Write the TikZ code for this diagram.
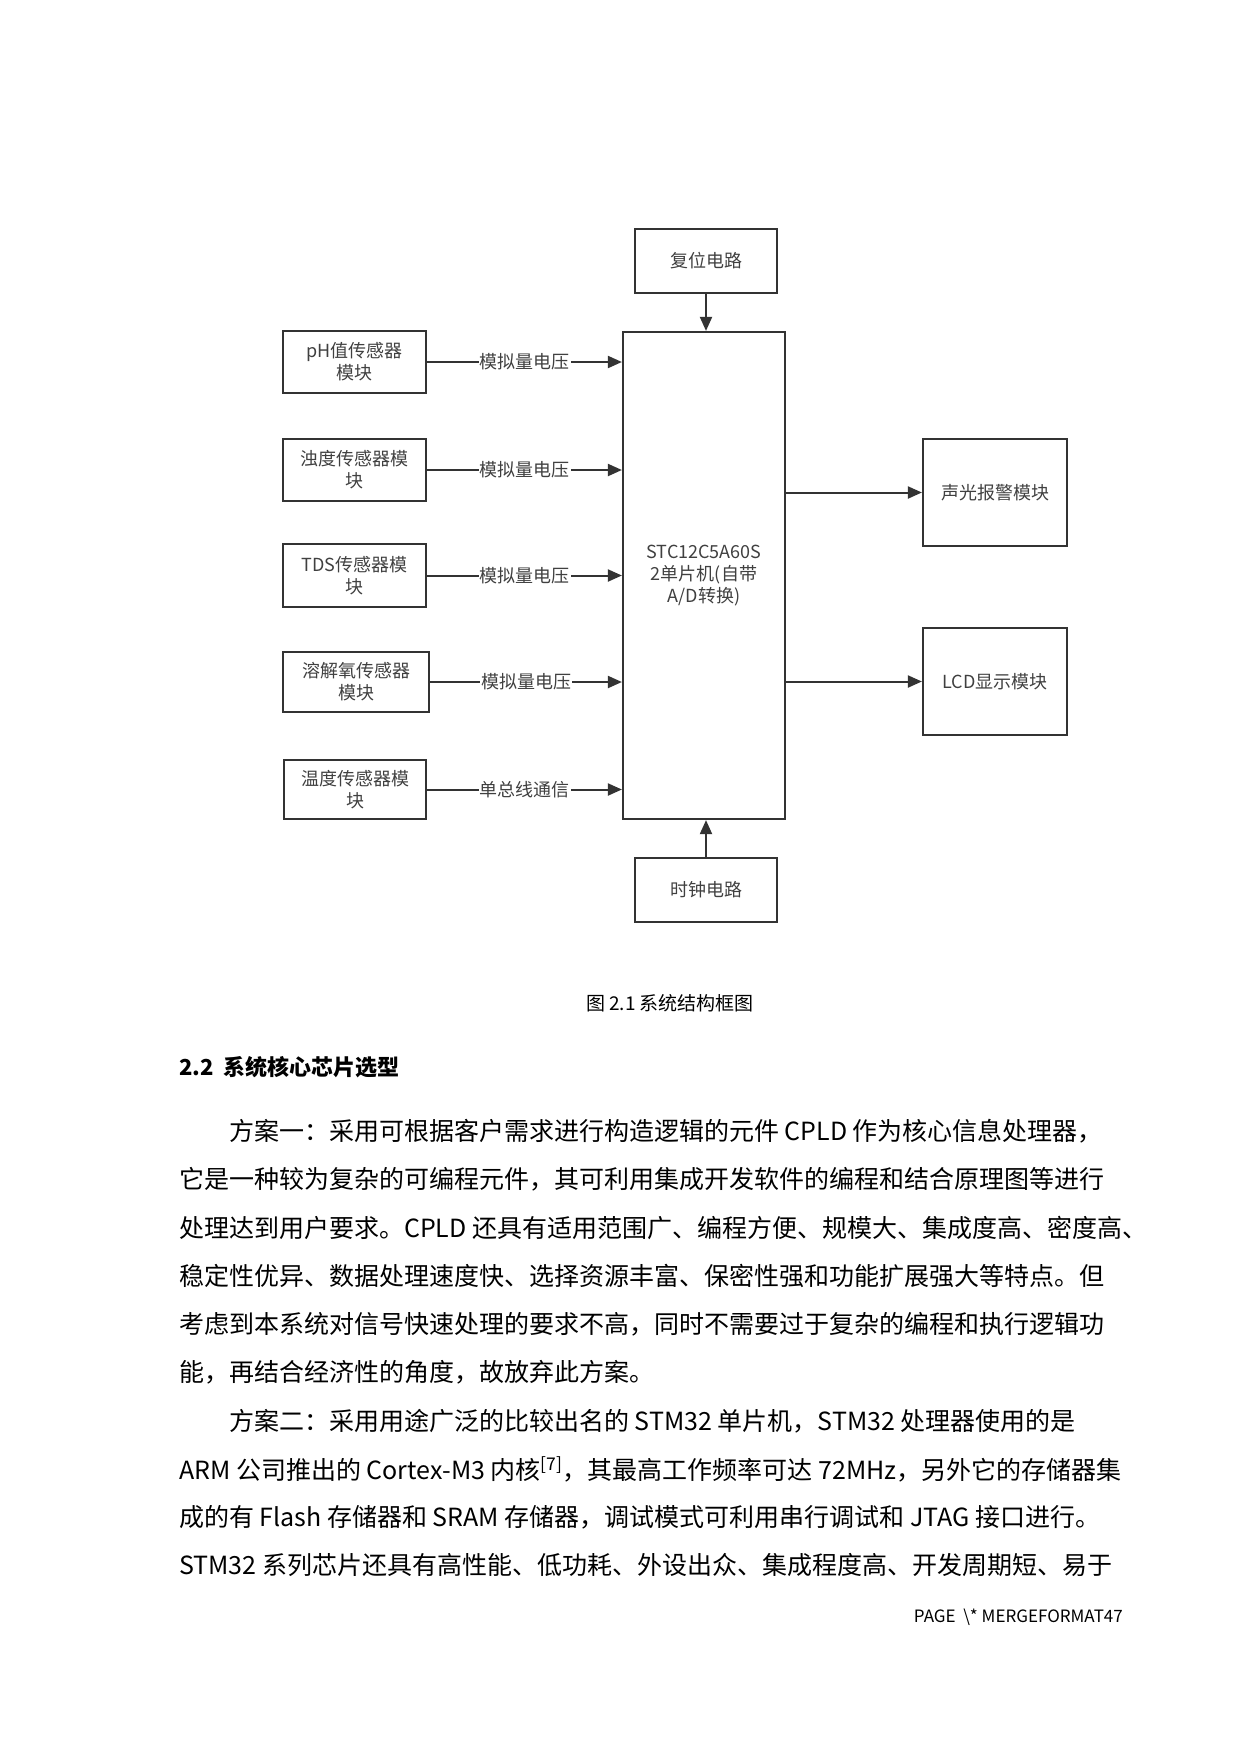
\documentclass[tikz,border=0pt]{standalone}
\usepackage{fontspec}
\setmainfont{Noto Sans CJK SC}
\usetikzlibrary{arrows.meta}
\begin{document}
\begin{tikzpicture}[x=1pt,y=-1pt,
  box/.style={draw=black!80,line width=2.2pt,inner sep=0pt,align=center,font=\fontsize{18}{22}\selectfont,text=black!75},
  lab/.style={fill=white,inner sep=1pt,font=\fontsize{18}{22}\selectfont,text=black!75},
  arr/.style={-{Triangle[length=14pt,width=12pt]},line width=2pt,draw=black!80},
  body/.style={anchor=west,inner sep=0pt,font=\fontsize{25}{30}\selectfont}]
\useasboundingbox (0,0) rectangle (1240,1754);
\node[box,minimum width=142pt,minimum height=64pt] (rst) at (706,261) {复位电路};
\node[box,minimum width=162pt,minimum height=487pt,text width=150pt] (mcu) at (704,575.5) {STC12C5A60S\\2单片机(自带\\A/D转换)};
\node[box,minimum width=143pt,minimum height=62pt,text width=125pt] (ph) at (354.5,362) {pH值传感器\\模块};
\node[box,minimum width=143pt,minimum height=62pt,text width=125pt] (zd) at (354.5,470) {浊度传感器模\\块};
\node[box,minimum width=143pt,minimum height=63pt,text width=125pt] (tds) at (354.5,575.5) {TDS传感器模\\块};
\node[box,minimum width=146pt,minimum height=60pt,text width=125pt] (do) at (356,682) {溶解氧传感器\\模块};
\node[box,minimum width=142pt,minimum height=59pt,text width=125pt] (tmp) at (355,789.5) {温度传感器模\\块};
\node[box,minimum width=144pt,minimum height=107pt] (alm) at (995,492.5) {声光报警模块};
\node[box,minimum width=144pt,minimum height=107pt] (lcd) at (995,681.5) {LCD显示模块};
\node[box,minimum width=142pt,minimum height=64pt] (clk) at (706,890) {时钟电路};
\draw[arr] (rst) -- (rst|-mcu.north);
\draw[arr] (clk) -- (clk|-mcu.south);
\draw[arr] (ph.east) -- node[lab]{模拟量电压} (ph.east-|mcu.west);
\draw[arr] (zd.east) -- node[lab]{模拟量电压} (zd.east-|mcu.west);
\draw[arr] (tds.east) -- node[lab]{模拟量电压} (tds.east-|mcu.west);
\draw[arr] (do.east) -- node[lab]{模拟量电压} (do.east-|mcu.west);
\draw[arr] (tmp.east) -- node[lab]{单总线通信} (tmp.east-|mcu.west);
\draw[arr] (mcu.east|-alm.west) -- (alm.west);
\draw[arr] (mcu.east|-lcd.west) -- (lcd.west);
\node[inner sep=0pt,font=\fontsize{19}{22}\selectfont] (cap) at (670,1003) {图 2.1 系统结构框图};
\node[body,font=\fontsize{22}{26}\selectfont\bfseries] (h) at (179,1067) {2.2\ \ 系统核心芯片选型};
\node[body] (l1) at (229,1131) {方案一：采用可根据客户需求进行构造逻辑的元件 CPLD 作为核心信息处理器，};
\node[body] (l2) at (179,1179) {它是一种较为复杂的可编程元件，其可利用集成开发软件的编程和结合原理图等进行};
\node[body] (l3) at (179,1228) {处理达到用户要求。CPLD 还具有适用范围广、编程方便、规模大、集成度高、密度高、};
\node[body] (l4) at (179,1276) {稳定性优异、数据处理速度快、选择资源丰富、保密性强和功能扩展强大等特点。但};
\node[body] (l5) at (179,1324) {考虑到本系统对信号快速处理的要求不高，同时不需要过于复杂的编程和执行逻辑功};
\node[body] (l6) at (179,1372) {能，再结合经济性的角度，故放弃此方案。};
\node[body] (l7) at (229,1421) {方案二：采用用途广泛的比较出名的 STM32 单片机，STM32 处理器使用的是};
\node[body] (l8) at (179,1469) {ARM 公司推出的 Cortex-M3 内核\textsuperscript{[7]}，其最高工作频率可达 72MHz，另外它的存储器集};
\node[body] (l9) at (179,1517) {成的有 Flash 存储器和 SRAM 存储器，调试模式可利用串行调试和 JTAG 接口进行。};
\node[body] (l10) at (179,1565) {STM32 系列芯片还具有高性能、低功耗、外设出众、集成程度高、开发周期短、易于};
\node[anchor=east,inner sep=0pt,font=\fontsize{17}{20}\selectfont] (pg) at (1123,1617) {PAGE \ \textbackslash* MERGEFORMAT47};
\end{tikzpicture}
\end{document}
